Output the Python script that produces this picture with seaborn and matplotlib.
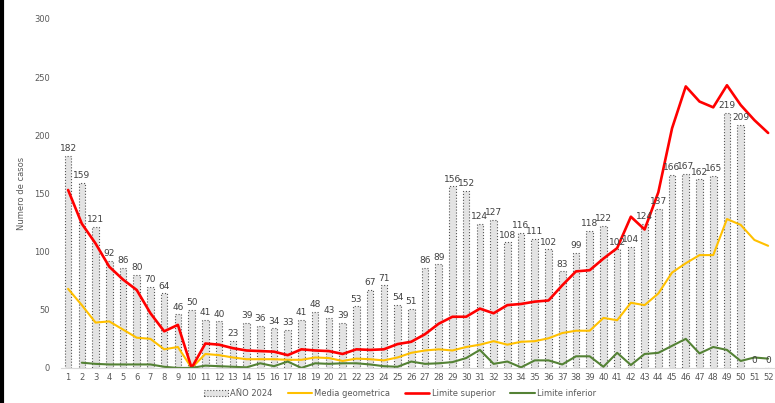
import numpy as np
import pandas as pd
import matplotlib
matplotlib.use("Agg")
import matplotlib.pyplot as plt
import seaborn as sns
from matplotlib.patches import Patch
from matplotlib.lines import Line2D

sns.set_theme(style="white")
plt.rcParams['font.family'] = ['DejaVu Sans']

# semanas epidemiologicas 1..52
semanas = list(range(1, 53))

casos_2024 = [182, 159, 121, 92, 86, 80, 70, 64, 46, 50,
              41, 40, 23, 39, 36, 34, 33, 41, 48, 43,
              39, 53, 67, 71, 54, 51, 86, 89, 156, 152,
              124, 127, 108, 116, 111, 102, 83, 99, 118, 122,
              102, 104, 124, 137, 166, 167, 162, 165, 219, 209,
              0, 0]

media_geometrica = [68, 54, 39, 40, 33, 26, 25, 16, 18, 0,
                    12, 11, 9, 7.5, 7.5, 7.5, 7, 7, 9, 8.5,
                    6, 8, 7.5, 6.5, 9, 13, 15, 16, 15, 18,
                    20, 23, 20, 22.5, 23, 25.5, 30, 32, 32, 43,
                    41, 56, 54, 64, 82, 90, 97, 97, 128, 123,
                    110, 105]

limite_superior = [153, 124, 107, 87, 76, 67, 47, 31.5, 37, 0,
                   21, 20, 17, 15, 14.5, 14, 11, 16, 15, 14.5,
                   12, 16, 15.5, 16, 20.5, 22.5, 29, 38, 44, 44,
                   51, 47, 54, 55, 57, 58, 71, 83, 84, 94,
                   103, 130, 119, 151, 206, 242, 229, 224, 243, 226,
                   213, 202]

limite_inferior = [np.nan, 4.5, 3.5, 3, np.nan, 3, 3, 1, 0, 0,
                   2, 1.5, 1, 0.5, 4, 1.5, 5.5, 0, 4, 3.5,
                   4, 4, 3, 1.5, 1, 5.5, 3.5, 4, 5, 8.5,
                   15.5, 3.5, 5.5, 0.5, 6.5, 6.5, 3, 10, 10, 1,
                   13, 2.5, 12, 13, 19, 25, 12.5, 18, 15.5, 6,
                   9, 8]

df = pd.DataFrame({'semana': semanas, 'casos': casos_2024,
                   'media': media_geometrica, 'sup': limite_superior,
                   'inf': limite_inferior})

fig = plt.figure(figsize=(7.75, 4.03), dpi=100)
ax = fig.add_axes([0.079, 0.087, 0.921, 0.866])

sns.barplot(data=df, x='semana', y='casos', native_scale=True, width=0.48,
            color='#e3e3e3', edgecolor='#555555', linewidth=0.8,
            linestyle=':', saturation=1, ax=ax)
ax.bar_label(ax.containers[0], fontsize=6.5, color='#404040', padding=2)

sns.lineplot(data=df, x='semana', y='media', color='#ffc000', linewidth=1.5, ax=ax)
sns.lineplot(data=df, x='semana', y='sup', color='#ff0000', linewidth=1.9, ax=ax)
sns.lineplot(data=df, x='semana', y='inf', color='#548235', linewidth=1.5, ax=ax)

ax.set_xlim(0.5, 52.5)
ax.set_ylim(0, 300)
ax.set_yticks(range(0, 301, 50))
ax.set_xticks(semanas)
ax.set_xticklabels([str(s) for s in semanas])
ax.tick_params(axis='both', labelsize=6, colors='#595959', length=0, pad=4)
ax.tick_params(axis='y', pad=8)
ax.set_xlabel('')
ax.set_ylabel('Numero de casos', fontsize=6, color='#595959', labelpad=6)
sns.despine(ax=ax, left=True, top=True, right=True)
ax.spines['bottom'].set_color('#d9d9d9')
ax.spines['bottom'].set_linewidth(0.8)

handles = [Patch(facecolor='#e3e3e3', edgecolor='#555555', linestyle=':', linewidth=0.8),
           Line2D([0], [0], color='#ffc000', lw=1.5),
           Line2D([0], [0], color='#ff0000', lw=1.9),
           Line2D([0], [0], color='#548235', lw=1.5)]
labels = ['AÑO 2024', 'Media geometrica', 'Limite superior', 'Limite inferior']
fig.legend(handles, labels, loc='lower center', bbox_to_anchor=(0.516, -0.005),
           ncol=4, frameon=False, fontsize=6, handlelength=2.9, columnspacing=1.8,
           handletextpad=0.3, labelcolor='#595959')

# borde negro izquierdo
fig.add_artist(Line2D([0.002, 0.002], [0, 1], color='black', lw=3,
                      transform=fig.transFigure))

fig.savefig('out.png', dpi=100)
